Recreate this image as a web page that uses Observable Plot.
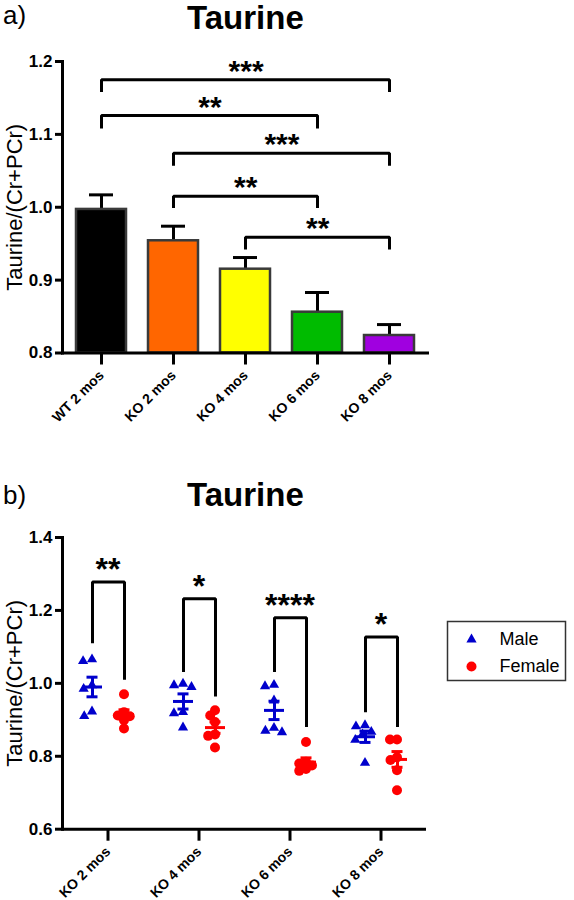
<!DOCTYPE html>
<html><head><meta charset="utf-8">
<script src="https://cdn.jsdelivr.net/npm/d3@7"></script>
<script src="https://cdn.jsdelivr.net/npm/@observablehq/plot@0.6"></script>
<style>
body{margin:0;background:#fff;width:574px;height:900px;position:relative;overflow:hidden;font-family:"Liberation Sans",Arial,sans-serif;}
.lbl{position:absolute;font-size:26px;line-height:1;color:#000;z-index:5;}
.ttl{position:absolute;font-size:33px;font-weight:bold;line-height:1;color:#000;z-index:5;}
#pa{position:absolute;left:0;top:0;z-index:1;}
#pb{position:absolute;left:0;top:470px;z-index:1;}
#lg{position:absolute;left:447px;top:621px;z-index:3;}
svg{overflow:visible;}
</style></head><body>
<div id="pa"></div>
<div id="pb"></div>
<div id="lg"></div>
<div class="lbl" style="left:3px;top:2px">a)</div>
<div class="ttl" style="left:187px;top:1px">Taurine</div>
<div class="lbl" style="left:3px;top:482px">b)</div>
<div class="ttl" style="left:187px;top:478px">Taurine</div>
<script>
// ---------- Panel a data ----------
const groupsA = ["WT 2 mos", "KO 2 mos", "KO 4 mos", "KO 6 mos", "KO 8 mos"];
const meansA  = [0.997, 0.954, 0.915, 0.856, 0.824];
const upperA  = [1.017, 0.974, 0.931, 0.883, 0.839];
const colorsA = ["#000000", "#FF6600", "#FFFF00", "#00BB00", "#A000E0"];
const yTicksA = [0.8, 0.9, 1.0, 1.1, 1.2];
const bracketFromA   = ["WT 2 mos", "WT 2 mos", "KO 2 mos", "KO 2 mos", "KO 4 mos"];
const bracketToA     = ["KO 8 mos", "KO 6 mos", "KO 8 mos", "KO 6 mos", "KO 8 mos"];
const bracketTopA    = [1.175, 1.126, 1.074, 1.015, 0.959];
const bracketBottomA = [1.158, 1.108, 1.057, 0.999, 0.942];
const bracketStarsA  = ["***", "**", "***", "**", "**"];

// ---------- Panel b data ----------
const groupsB = ["KO 2 mos", "KO 4 mos", "KO 6 mos", "KO 8 mos"];
const sexes = ["Male", "Female"];
const maleKO2   = [1.066, 1.061, 0.995, 0.985, 0.923, 0.910];
const maleKO4   = [0.999, 0.995, 0.990, 0.921, 0.918, 0.879];
const maleKO6   = [0.996, 0.992, 0.953, 0.878, 0.870, 0.866];
const maleKO8   = [0.885, 0.882, 0.867, 0.860, 0.845, 0.782];
const femaleKO2 = [0.970, 0.921, 0.912, 0.910, 0.899, 0.876];
const femaleKO4 = [0.926, 0.912, 0.894, 0.860, 0.856, 0.824];
const femaleKO6 = [0.839, 0.785, 0.780, 0.775, 0.765, 0.760];
const femaleKO8 = [0.846, 0.846, 0.797, 0.790, 0.762, 0.707];
const yTicksB = [0.6, 0.8, 1.0, 1.2, 1.4];
const bracketTopB     = [1.278, 1.232, 1.180, 1.127];
const bracketMaleEndB = [1.110, 1.031, 1.031, 0.921];
const bracketFemEndB  = [1.010, 0.964, 0.880, 0.880];
const bracketStarsB   = ["**", "*", "****", "*"];

const BLUE = "#0000CC", RED = "#FF0000";
const FONT = "'Liberation Sans', Arial, sans-serif";
const YLABEL = "Taurine/(Cr+PCr)";

// ---------- Panel a ----------
const LA = {width: 574, height: 450, marginTop: 61, marginBottom: 97.5, marginLeft: 62, marginRight: 147};
const insetA = 13, padA = 0.31;
const stepA = (LA.width - LA.marginLeft - LA.marginRight - 2 * insetA) / (groupsA.length - padA);

const barsA = groupsA.map((g, i) => ({group: g, mean: meansA[i], upper: upperA[i], color: colorsA[i]}));
const bracketsA = bracketFromA.map((f, i) => ({from: f, to: bracketToA[i], top: bracketTopA[i], bottom: bracketBottomA[i], stars: bracketStarsA[i]}));
const bracketPtsA = bracketsA.flatMap((b, i) => [
  {k: i, x: b.from, y: b.bottom}, {k: i, x: b.from, y: b.top},
  {k: i, x: b.to, y: b.top}, {k: i, x: b.to, y: b.bottom}
]);

const plotA = Plot.plot({
  ...LA,
  style: {fontFamily: FONT, color: "#000", background: "#fff", overflow: "visible"},
  x: {domain: groupsA, paddingInner: padA, paddingOuter: 0, insetLeft: insetA, insetRight: insetA},
  y: {domain: [yTicksA[0], yTicksA[yTicksA.length - 1]]},
  color: {type: "identity"},
  marks: [
    Plot.ruleX(barsA, {x: "group", y1: "mean", y2: "upper", strokeWidth: 3}),
    Plot.tickY(barsA, {x: "group", y: "upper", strokeWidth: 3, insetLeft: 13, insetRight: 13}),
    Plot.barY(barsA, {x: "group", y1: yTicksA[0], y2: "mean", fill: "color", stroke: "#3a3a3a", strokeWidth: 2.5}),
    Plot.line(bracketPtsA, {x: "x", y: "y", z: "k", strokeWidth: 3, strokeLinejoin: "miter", strokeLinecap: "butt"}),
    ...bracketsA.map(b => Plot.text([b], {
      x: "from", y: "top", text: "stars",
      dx: (groupsA.indexOf(b.to) - groupsA.indexOf(b.from)) * stepA / 2,
      dy: -8.5, fontSize: 30, fontWeight: "bold"
    })),
    Plot.axisY({ticks: yTicksA, tickFormat: d3.format(".1f"), tickSize: 7, strokeWidth: 3, fontWeight: "bold", fontSize: 17, label: null}),
    Plot.axisY({ticks: [], label: YLABEL, labelAnchor: "center", labelArrow: "none", labelOffset: 56, fontSize: 22}),
    Plot.axisX({tickRotate: -45, tickSize: 12, strokeWidth: 3, fontWeight: "bold", fontSize: 14, label: null, tickPadding: 8}),
    Plot.frame({anchor: "left", strokeWidth: 3}),
    Plot.frame({anchor: "bottom", strokeWidth: 3})
  ]
});
document.getElementById("pa").appendChild(plotA);

// ---------- Panel b ----------
const LB = {width: 574, height: 430, marginTop: 67, marginBottom: 71.3, marginLeft: 62, marginRight: 148};
const OFFSET = 16;
const facetW = (LB.width - LB.marginLeft - LB.marginRight) / groupsB.length;
const insetB = facetW / 2 - OFFSET;

const maleValues = [maleKO2, maleKO4, maleKO6, maleKO8];
const femaleValues = [femaleKO2, femaleKO4, femaleKO6, femaleKO8];
const ptsMale = groupsB.flatMap((g, i) => maleValues[i].map(v => ({group: g, value: v})));
const ptsFemale = groupsB.flatMap((g, i) => femaleValues[i].map(v => ({group: g, value: v})));
const statsB = groupsB.flatMap((g, i) => sexes.map(s => {
  const v = s === "Male" ? maleValues[i] : femaleValues[i];
  const m = d3.mean(v), se = d3.deviation(v) / Math.sqrt(v.length);
  return {group: g, sex: s, mean: m, lo: m - se, hi: m + se, color: s === "Male" ? BLUE : RED};
}));
const bracketPtsB = groupsB.flatMap((g, i) => [
  {group: g, sex: "Male", y: bracketMaleEndB[i]}, {group: g, sex: "Male", y: bracketTopB[i]},
  {group: g, sex: "Female", y: bracketTopB[i]}, {group: g, sex: "Female", y: bracketFemEndB[i]}
]);
const starsB = groupsB.map((g, i) => ({group: g, top: bracketTopB[i], stars: bracketStarsB[i]}));

const hbar = (y, half) => Plot.ruleY(statsB, {fx: "group", x1: "sex", x2: "sex", y, stroke: "color", strokeWidth: 3, insetLeft: -half, insetRight: -half});

const plotB = Plot.plot({
  ...LB,
  style: {fontFamily: FONT, color: "#000", background: "#fff", overflow: "visible"},
  fx: {domain: groupsB, padding: 0},
  x: {type: "point", domain: sexes, padding: 0, insetLeft: insetB, insetRight: insetB, axis: null},
  y: {domain: [yTicksB[0], yTicksB[yTicksB.length - 1]]},
  color: {type: "identity"},
  marks: [
    Plot.line(bracketPtsB, {fx: "group", x: "sex", y: "y", strokeWidth: 3, strokeLinejoin: "miter", strokeLinecap: "butt"}),
    Plot.text(starsB, {fx: "group", y: "top", text: "stars", dy: -12, fontSize: 32, fontWeight: "bold"}),
    Plot.dot(ptsMale, Plot.dodgeX({anchor: "middle", padding: 1.5}, {fx: "group", y: "value", r: 3.8, symbol: "triangle", fill: BLUE, dx: -OFFSET})),
    Plot.dot(ptsFemale, Plot.dodgeX({anchor: "middle", padding: -3}, {fx: "group", y: "value", r: 5, symbol: "circle", fill: RED, dx: OFFSET})),
    Plot.ruleX(statsB, {fx: "group", x: "sex", y1: "lo", y2: "hi", stroke: "color", strokeWidth: 3}),
    hbar("mean", 10),
    hbar("lo", 5.5),
    hbar("hi", 5.5),
    Plot.axisY({ticks: yTicksB, tickFormat: d3.format(".1f"), tickSize: 7, strokeWidth: 3, fontWeight: "bold", fontSize: 17, label: null}),
    Plot.axisY({ticks: [], label: YLABEL, labelAnchor: "center", labelArrow: "none", labelOffset: 56, fontSize: 22}),
    Plot.axisFx({anchor: "bottom", tickRotate: -45, tickSize: 12, strokeWidth: 3, fontWeight: "bold", fontSize: 14, label: null, tickPadding: 8}),
    Plot.frame({anchor: "left", strokeWidth: 3, facetAnchor: "left"}),
    Plot.ruleY([yTicksB[0]], {strokeWidth: 3})
  ]
});
document.getElementById("pb").appendChild(plotB);

// ---------- Legend ----------
const legendNames = ["Male", "Female"];
const legendSymbols = ["triangle", "circle"];
const legendColors = [BLUE, RED];
const legendR = [3.8, 5];
const plotL = Plot.plot({
  width: 118, height: 59, margin: 0,
  style: {fontFamily: FONT, color: "#000", background: "#fff", overflow: "visible"},
  y: {type: "point", domain: legendNames, padding: 0.5, insetTop: 4, insetBottom: 0, axis: null},
  marks: [
    Plot.frame({stroke: "#333", strokeWidth: 1.5}),
    ...legendNames.map((n, i) => Plot.dot([n], {y: d => d, frameAnchor: "left", dx: 24, symbol: legendSymbols[i], fill: legendColors[i], r: legendR[i]})),
    Plot.text(legendNames, {y: d => d, frameAnchor: "left", dx: 52, textAnchor: "start", fontSize: 18})
  ]
});
document.getElementById("lg").appendChild(plotL);
</script>
</body></html>
